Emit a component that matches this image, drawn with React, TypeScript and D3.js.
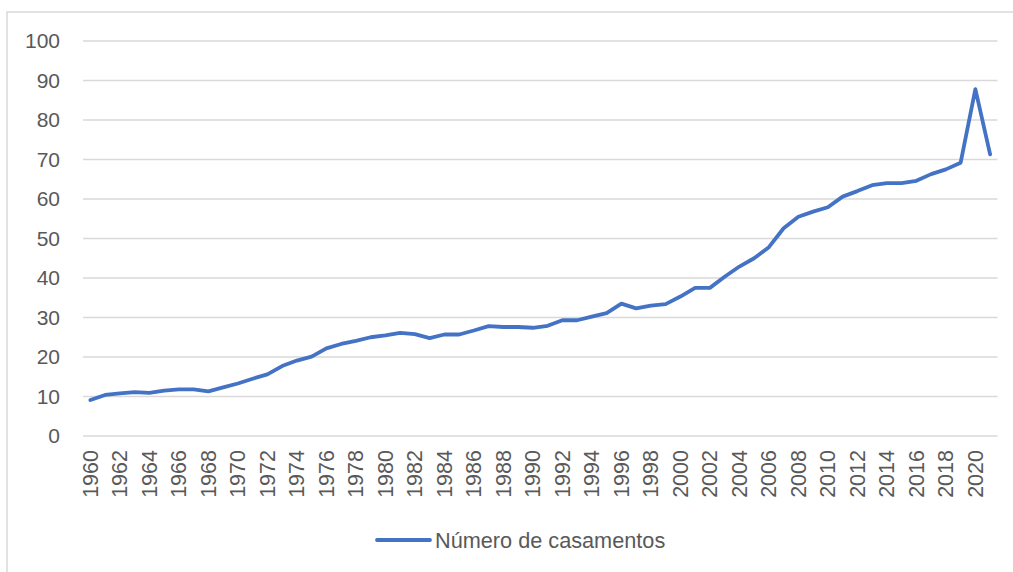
import React from "react";
import * as d3 from "d3";

const years: number[] = [
  1960, 1961, 1962, 1963, 1964, 1965, 1966, 1967, 1968, 1969,
  1970, 1971, 1972, 1973, 1974, 1975, 1976, 1977, 1978, 1979,
  1980, 1981, 1982, 1983, 1984, 1985, 1986, 1987, 1988, 1989,
  1990, 1991, 1992, 1993, 1994, 1995, 1996, 1997, 1998, 1999,
  2000, 2001, 2002, 2003, 2004, 2005, 2006, 2007, 2008, 2009,
  2010, 2011, 2012, 2013, 2014, 2015, 2016, 2017, 2018, 2019,
  2020, 2021,
];

const values: number[] = [
  9.1, 10.4, 10.8, 11.1, 10.9, 11.5, 11.8, 11.8, 11.3, 12.3,
  13.3, 14.5, 15.6, 17.7, 19.1, 20.1, 22.2, 23.3, 24.1, 25.0,
  25.5, 26.1, 25.8, 24.8, 25.7, 25.7, 26.7, 27.8, 27.6, 27.6,
  27.4, 27.9, 29.3, 29.3, 30.2, 31.1, 33.5, 32.3, 33.0, 33.4,
  35.3, 37.5, 37.5, 40.3, 42.9, 45.0, 47.8, 52.6, 55.5, 56.8,
  57.9, 60.6, 62.0, 63.5, 64.0, 64.0, 64.6, 66.3, 67.5, 69.2,
  87.8, 71.3,
];

const yTicks: number[] = [0, 10, 20, 30, 40, 50, 60, 70, 80, 90, 100];
const seriesName = "Número de casamentos";

const W = 1013;
const H = 572;
const left = 83;
const right = 997.5;
const top = 41;
const bottom = 436;

export default function App() {
  const x = d3
    .scaleBand<number>()
    .domain(years)
    .range([left, right]);
  const y = d3.scaleLinear().domain([0, 100]).range([bottom, top]);
  const cx = (yr: number) => (x(yr) as number) + x.bandwidth() / 2;

  const line = d3
    .line<number>()
    .x((_, i) => cx(years[i]))
    .y((v) => y(v));

  const textColor = "#595959";
  const font = "'Liberation Sans', Arial, sans-serif";

  return (
    <svg
      width={W}
      height={H}
      style={{ position: "absolute", left: 0, top: 0, background: "#fff" }}
    >
      <rect x={7} y={12} width={W + 20} height={H + 20} fill="#fff" stroke="#D9D9D9" strokeWidth={1.5} />
      {yTicks.map((t) => (
        <g key={t}>
          <line x1={left} x2={right} y1={y(t)} y2={y(t)} stroke="#D9D9D9" strokeWidth={1.5} />
          <text
            x={60}
            y={y(t)}
            dy="0.35em"
            textAnchor="end"
            fontFamily={font}
            fontSize={21}
            fill={textColor}
          >
            {t}
          </text>
        </g>
      ))}
      {years
        .filter((yr) => yr % 2 === 0)
        .map((yr) => (
          <text
            key={yr}
            transform={`translate(${cx(yr)},${450}) rotate(-90)`}
            textAnchor="end"
            dy="0.35em"
            fontFamily={font}
            fontSize={21.5}
            fill={textColor}
          >
            {yr}
          </text>
        ))}
      <path
        d={line(values) || ""}
        fill="none"
        stroke="#4472C4"
        strokeWidth={3.8}
        strokeLinejoin="round"
        strokeLinecap="round"
      />
      <line x1={377} x2={430} y1={540} y2={540} stroke="#4472C4" strokeWidth={3.8} strokeLinecap="round" />
      <text x={435} y={540} dy="0.35em" fontFamily={font} fontSize={21.7} fill={textColor}>
        {seriesName}
      </text>
    </svg>
  );
}
